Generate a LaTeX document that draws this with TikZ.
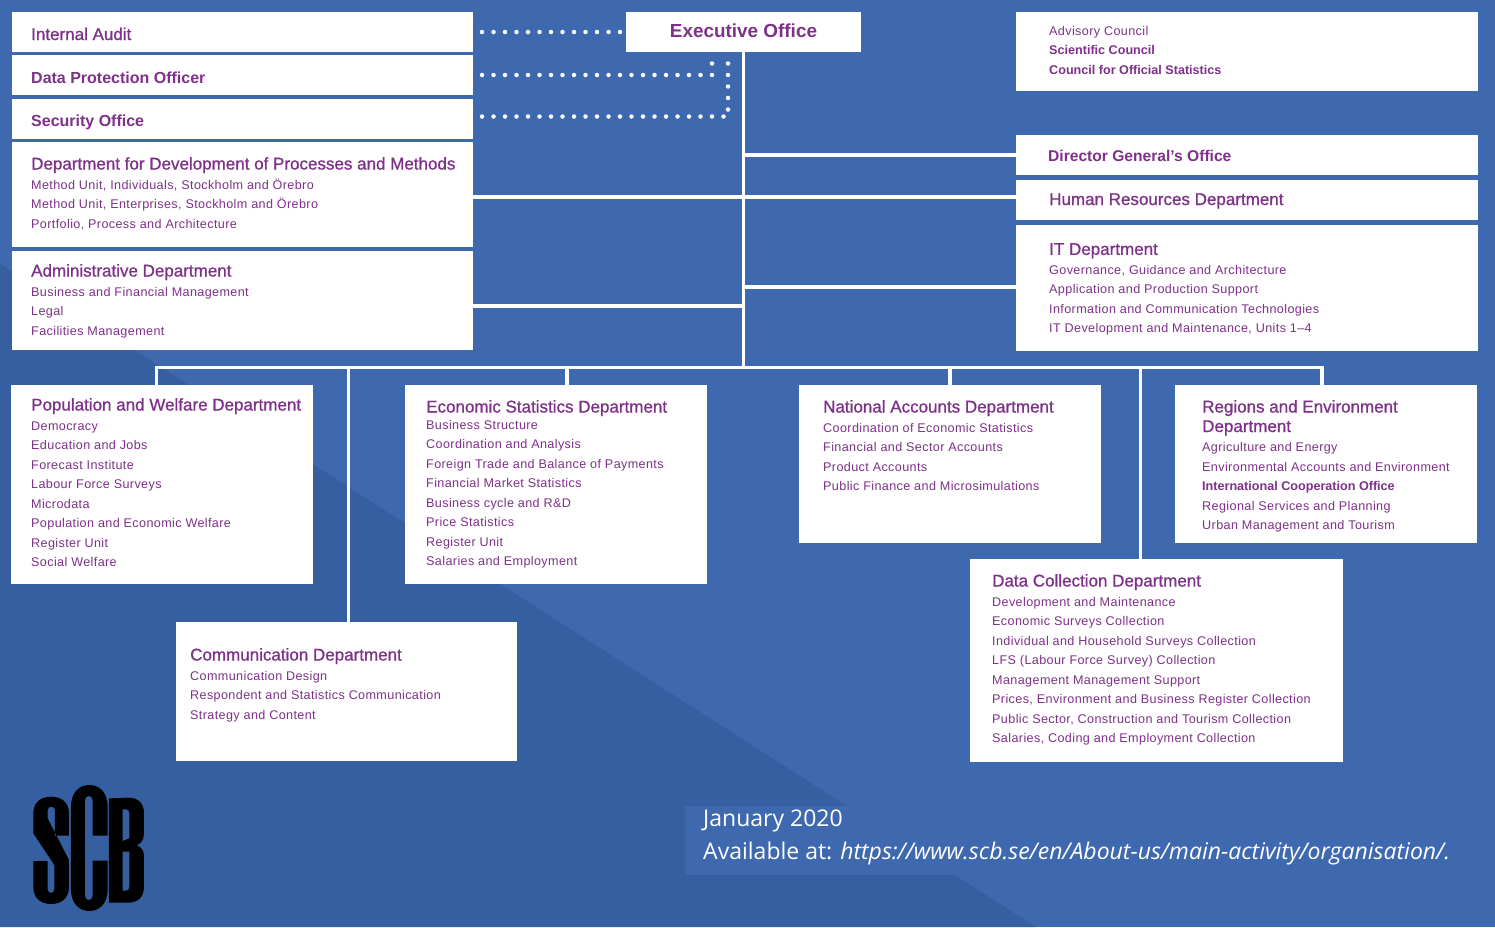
\documentclass[tikz,border=0pt]{standalone}
\usepackage{fontspec}
\setmainfont{Liberation Sans}
\newfontfamily\medfont[FakeBold=0.9]{Liberation Sans}
\newfontfamily\lightfont[LetterSpace=3]{Liberation Sans}
\newfontfamily\footfont{Open Sans}
\definecolor{bluelight}{HTML}{3F69AF}
\definecolor{bluedark}{HTML}{365FA2}
\definecolor{scbpurple}{HTML}{7E3189}
\newcommand{\hd}{\medfont\fontsize{17}{19.5}\selectfont}
\newcommand{\bd}{\lightfont\fontsize{12.6}{19.5}\selectfont}
\newcommand{\hv}{\normalfont\bfseries\fontsize{16}{19.5}\selectfont}
\newcommand{\bv}{\normalfont\bfseries\fontsize{12.6}{19.5}\selectfont}
\tikzset{
	panel/.style={fill=white,inner sep=0pt,anchor=north west},
	words/.style={text=scbpurple,inner sep=0pt,anchor=north west,align=left,font=\bd},
	link/.style={draw=white,line width=3.5pt},
	dots/.style={draw=white,line width=4.5pt,line cap=round,dash pattern=on 0pt off 11.5pt},
}
\begin{document}
\begin{tikzpicture}[x=1pt,y=-1pt]
	\useasboundingbox (0,0) rectangle (1495,927);
	% background
	\fill[bluelight] (0,0) rectangle (1495,927);
	\fill[bluedark] (0,264) -- (1036,927) -- (0,927) -- cycle;
	\fill[bluelight] (685,806) rectangle (1470,875);
	% boxes, left column
	\node[panel,minimum width=461pt,minimum height=40pt] (audit) at (12,12) {};
	\node[panel,minimum width=461pt,minimum height=40pt] (privacy) at (12,55) {};
	\node[panel,minimum width=461pt,minimum height=40pt] (security) at (12,99) {};
	\node[panel,minimum width=461pt,minimum height=105pt] (methods) at (12,142) {};
	\node[panel,minimum width=461pt,minimum height=99pt] (admin) at (12,251) {};
	% boxes, right column
	\node[panel,minimum width=235pt,minimum height=40pt] (exec) at (626,12) {};
	\node[panel,minimum width=462pt,minimum height=79pt] (council) at (1016,12) {};
	\node[panel,minimum width=462pt,minimum height=40pt] (dg) at (1016,135) {};
	\node[panel,minimum width=462pt,minimum height=40pt] (hr) at (1016,180) {};
	\node[panel,minimum width=462pt,minimum height=126pt] (it) at (1016,225) {};
	% boxes, departments
	\node[panel,minimum width=302pt,minimum height=199pt] (pop) at (11,385) {};
	\node[panel,minimum width=302pt,minimum height=199pt] (econ) at (405,385) {};
	\node[panel,minimum width=302pt,minimum height=158pt] (nat) at (799,385) {};
	\node[panel,minimum width=302pt,minimum height=158pt] (reg) at (1175,385) {};
	\node[panel,minimum width=373pt,minimum height=203pt] (coll) at (970,559) {};
	\node[panel,minimum width=341pt,minimum height=139pt] (comm) at (176,622) {};
	% junctions
	\coordinate (bus) at (exec.south |- 0,367.5);
	\coordinate (busw) at (156.5,367.5);
	\coordinate (buse) at (1322,367.5);
	\coordinate (dropcomm) at (348.5,367.5);
	\coordinate (dropecon) at (567,367.5);
	\coordinate (dropcoll) at (1140.5,367.5);
	\coordinate (tiea) at (743.5,197);
	\coordinate (tieb) at (743.5,287);
	\coordinate (tiec) at (743.5,306);
	% connectors
	\draw[link] (exec.south) -- (bus);
	\draw[link,line cap=rect] (busw) -- (buse);
	\draw[link] (exec.south |- dg.west) -- (dg.west);
	\draw[link] (methods.east |- tiea) -- (hr.west |- tiea);
	\draw[link] (tieb) -- (it.west |- tieb);
	\draw[link] (tiec) -- (admin.east |- tiec);
	\draw[link] (busw) -- (busw |- pop.north);
	\draw[link] (dropcomm) -- (dropcomm |- comm.north);
	\draw[link] (dropecon) -- (dropecon |- econ.north);
	\draw[link] (bus -| nat.north) -- (nat.north);
	\draw[link] (dropcoll) -- (dropcoll |- coll.north);
	\draw[link] (buse) -- (buse |- reg.north);
	% dotted staff lines
	\coordinate (dota) at (482,32);
	\coordinate (dotb) at (482,75);
	\coordinate (dotc) at (482,116.5);
	\coordinate (turnb) at (712,75);
	\coordinate (turnc) at (728,116.5);
	\draw[dots] (dota) -- (dota -| exec.west);
	\draw[dots] (dotb) -- (turnb) -- (turnb |- exec.south);
	\draw[dots] (dotc) -- (turnc) -- (turnc |- exec.south);
	% texts
	\node[words,anchor=base west] (audittxt) at (31,40) {\hd Internal Audit};
	\node[words,anchor=base west] (privacytxt) at (31,83) {\hv Data Protection Officer};
	\node[words,anchor=base west] (securitytxt) at (31,126) {\hv Security Office};
	\node[words] (methodstxt) at (31,157) {\hd Department for Development of Processes and Methods\\
		Method Unit, Individuals, Stockholm and Örebro\\
		Method Unit, Enterprises, Stockholm and Örebro\\
		Portfolio, Process and Architecture};
	\node[words] (admintxt) at (31,264) {\hd Administrative Department\\
		Business and Financial Management\\
		Legal\\
		Facilities Management};
	\node[words,anchor=base] (exectxt) at (743.5,37) {\normalfont\bfseries\fontsize{18.9}{22}\selectfont Executive Office};
	\node[words] (counciltxt) at (1049,26) {Advisory Council\\
		\bv Scientific Council\\
		\bv Council for Official Statistics};
	\node[words,anchor=base west] (dgtxt) at (1048,161) {\normalfont\bfseries\fontsize{15.6}{19.5}\selectfont Director General’s Office};
	\node[words,anchor=base west] (hrtxt) at (1049,205) {\hd Human Resources Department};
	\node[words] (ittxt) at (1049,243) {\hd IT Department\\
		Governance, Guidance and Architecture\\
		Application and Production Support\\
		Information and Communication Technologies\\
		IT Development and Maintenance, Units 1–4};
	\node[words] (poptxt) at (31,398) {\hd Population and Welfare Department\\
		Democracy\\
		Education and Jobs\\
		Forecast Institute\\
		Labour Force Surveys\\
		Microdata\\
		Population and Economic Welfare\\
		Register Unit\\
		Social Welfare};
	\node[words] (econtxt) at (426,400) {\hd Economic Statistics Department\\[-3pt]
		Business Structure\\
		Coordination and Analysis\\
		Foreign Trade and Balance of Payments\\
		Financial Market Statistics\\
		Business cycle and R\&D\\
		Price Statistics\\
		Register Unit\\
		Salaries and Employment};
	\node[words] (nattxt) at (823,400) {\hd National Accounts Department\\
		Coordination of Economic Statistics\\
		Financial and Sector Accounts\\
		Product Accounts\\
		Public Finance and Microsimulations};
	\node[words] (regtxt) at (1202,400) {\hd Regions and Environment\\
		\hd Department\\
		Agriculture and Energy\\
		Environmental Accounts and Environment\\
		\bv International Cooperation Office\\
		Regional Services and Planning\\
		Urban Management and Tourism};
	\node[words] (colltxt) at (992,574) {\hd Data Collection Department\\
		Development and Maintenance\\
		Economic Surveys Collection\\
		Individual and Household Surveys Collection\\
		LFS (Labour Force Survey) Collection\\
		Management Management Support\\
		Prices, Environment and Business Register Collection\\
		Public Sector, Construction and Tourism Collection\\
		Salaries, Coding and Employment Collection};
	\node[words] (commtxt) at (190,648) {\hd Communication Department\\
		Communication Design\\
		Respondent and Statistics Communication\\
		Strategy and Content};
	% footer
	\node[words,text=white,anchor=base west] (datetxt) at (703,826) {\footfont\fontsize{23}{26}\selectfont January 2020};
	\node[words,text=white,anchor=base west] (urltxt) at (703,859) {\footfont\fontsize{23}{26}\selectfont Available at: \itshape https://www.scb.se/en/About-us/main-activity/organisation/.};
	% logo
	\begin{scope}[shift={(0,770)},x=0.3333pt,y=-0.3333pt]
		\fill[black,even odd rule] (100,130) .. controls (100,95) and (125,80) .. (153,80)
			.. controls (182,80) and (207,95) .. (207,130) -- (207,197) -- (165,197) -- (165,120)
			.. controls (165,107) and (143,107) .. (143,120) -- (143,145) -- (207,270) -- (207,350)
			.. controls (207,387) and (182,402) .. (153,402) .. controls (125,402) and (100,387) .. (100,350)
			-- (100,273) -- (143,273) -- (143,358) .. controls (143,372) and (163,372) .. (163,358)
			-- (163,285) -- (100,190) -- cycle;
		\fill[black] (213,110) .. controls (213,65) and (240,45) .. (268,45)
			.. controls (296,45) and (323,65) .. (323,110) -- (323,197) -- (278,197) -- (278,90)
			.. controls (278,74) and (255,74) .. (255,90) -- (255,378)
			.. controls (255,394) and (278,394) .. (278,378) -- (278,272) -- (323,272) -- (323,358)
			.. controls (323,403) and (296,423) .. (268,423) .. controls (240,423) and (213,403) .. (213,358) -- cycle;
		\fill[black,even odd rule] (327,85) -- (385,83) .. controls (415,83) and (432,100) .. (432,130)
			-- (432,190) .. controls (432,210) and (422,222) .. (410,226) .. controls (422,230) and (432,240) .. (432,258)
			-- (432,350) .. controls (432,380) and (415,398) .. (385,398) -- (327,398) -- cycle
			(368,118) -- (378,118) .. controls (385,118) and (388,122) .. (388,130) -- (388,205) -- (368,213) -- cycle
			(368,245) -- (388,245) -- (388,350) .. controls (388,358) and (385,362) .. (378,362) -- (368,362) -- cycle;
	\end{scope}
\end{tikzpicture}
\end{document}
